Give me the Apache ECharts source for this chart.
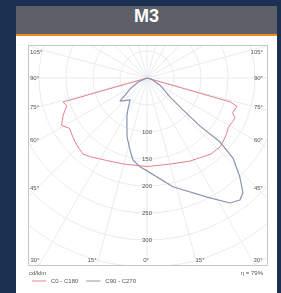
<!DOCTYPE html>
<html>
<head>
<meta charset="utf-8">
<script src="https://cdn.jsdelivr.net/npm/echarts@6/dist/echarts.min.js"></script>
<style>
  html, body { margin: 0; padding: 0; width: 281px; height: 293px; overflow: hidden; background: #1c3152; }
  #card { position: absolute; left: 16px; top: 6px; width: 261px; height: 287px; background: #fff; }
  #head { position: absolute; left: 0; top: 0; width: 261px; height: 28px; background: #5d6067;
          border-bottom: 2px solid #f08a24; color: #fff; text-align: center; line-height: 30px;
          font: bold 18px "Liberation Sans", Arial, sans-serif; }
  #chart { position: absolute; left: 0; top: 30px; width: 261px; height: 257px; }
</style>
</head>
<body>
<div id="card">
  <div id="head">M3</div>
  <div id="chart"></div>
</div>
<script>
// 光强分布 (cd/klm)，gamma 角：负 = 左侧，正 = 右侧
var c0Gamma  = [-90, -76, -74, -71, -66, -61, -57, -51, -46, -40, -36, -26, -15, 0,
                15, 27, 40, 47, 54, 59, 63, 65.5, 68, 72.5, 74, 76, 90];
var c0Values = [0, 0, 162, 157, 170, 181, 171, 176, 180, 184, 180, 170, 165, 164,
                165, 173, 184, 186, 181, 176, 178, 179, 171, 175, 160, 0, 0];

var c90Gamma  = [-90, -66, -57, -52, -49.6, -37.7, -32, -28.4, -23, -18.7, -13.3, -9.7, -4.5, 0,
                 13.4, 26.8, 33.6, 37.3, 39.9, 43.2, 47, 48.8, 47.8, 48.4, 50.4, 61.7, 75, 90];
var c90Values = [0, 18, 37, 51, 66, 51, 66, 78, 95, 115, 137, 154, 165, 172,
                 207, 247, 278, 284, 277, 251, 218, 180, 132, 89, 55, 27, 8, 0];

var seriesNames  = ['C0 - C180', 'C90 - C270'];
var ringLabels   = [100, 150, 200, 250, 300];
var sideLabels   = ['105°', '90°', '75°', '60°', '45°'];
var bottomLabels = ['30°', '15°', '0°', '15°', '30°'];
var unitText = 'cd/klm';
var etaText  = 'η = 79%';

// 标签位置
var sideLabelY   = [16, 42, 71, 104, 152];
var bottomLabelX = [19, 76, 130, 184, 242];

function toPolar(gamma, values) {
  return gamma.map(function (g, i) { return [values[i], g < 0 ? g + 360 : g]; });
}

var FONT = '6px "Liberation Sans", Arial, sans-serif';
var TXT = '#555';
var GRID = '#e8ebef';

var graphics = [
  // 遮住框外的网格
  { type: 'rect', shape: { x: 0, y: 0, width: 261, height: 9 }, style: { fill: '#fff' }, z: 10, silent: true },
  { type: 'rect', shape: { x: 0, y: 230, width: 261, height: 27 }, style: { fill: '#fff' }, z: 10, silent: true },
  { type: 'rect', shape: { x: 0, y: 0, width: 12, height: 257 }, style: { fill: '#fff' }, z: 10, silent: true },
  { type: 'rect', shape: { x: 252, y: 0, width: 9, height: 257 }, style: { fill: '#fff' }, z: 10, silent: true },
  { type: 'rect', shape: { x: 12.5, y: 9.5, width: 239, height: 220 },
    style: { fill: 'none', stroke: '#c6c6c6', lineWidth: 1 }, z: 11, silent: true }
];

function addText(txt, x, y, align) {
  graphics.push({
    type: 'text', x: x, y: y, z: 12, silent: true,
    style: { text: txt, fill: TXT, font: FONT, align: align, textAlign: align,
             verticalAlign: 'middle', textVerticalAlign: 'middle' }
  });
}
sideLabels.forEach(function (t, i) {
  addText(t, 14, sideLabelY[i], 'left');
  addText(t, 247, sideLabelY[i], 'right');
});
bottomLabels.forEach(function (t, i) { addText(t, bottomLabelX[i], 224, 'center'); });
addText(unitText, 13, 237, 'left');
addText(etaText, 247, 237, 'right');

var myChart = echarts.init(document.getElementById('chart'));
var option = {
  animation: false,
  polar: { center: [131, 42], radius: 243 },
  angleAxis: {
    type: 'value', min: 0, max: 360, interval: 15,
    startAngle: 270, clockwise: false,
    axisLine: { show: false }, axisTick: { show: false }, axisLabel: { show: false },
    splitLine: { show: true, lineStyle: { color: GRID, width: 1 } }
  },
  radiusAxis: {
    type: 'value', min: 0, max: 450, interval: 50,
    axisLine: { show: false }, axisTick: { show: false },
    axisLabel: {
      margin: 0, align: 'center', verticalAlign: 'middle',
      fontSize: 6, color: TXT, fontFamily: '"Liberation Sans", Arial, sans-serif',
      formatter: function (v) { return ringLabels.indexOf(v) >= 0 ? String(v) : ''; }
    },
    splitLine: { show: true, lineStyle: { color: GRID, width: 1 } }
  },
  legend: {
    data: seriesNames, left: 16, top: 242, z: 20,
    icon: 'rect', itemWidth: 14, itemHeight: 1, itemGap: 8, padding: 0,
    textStyle: { fontSize: 6, color: TXT, fontFamily: '"Liberation Sans", Arial, sans-serif' }
  },
  series: [
    {
      name: seriesNames[0], type: 'line', coordinateSystem: 'polar', silent: true,
      data: toPolar(c0Gamma, c0Values), symbol: 'none', z: 5,
      lineStyle: { color: '#e6808d', width: 1 }, itemStyle: { color: '#e6808d' }
    },
    {
      name: seriesNames[1], type: 'line', coordinateSystem: 'polar', silent: true,
      data: toPolar(c90Gamma, c90Values), symbol: 'none', z: 6,
      lineStyle: { color: '#8c93ae', width: 1.2 }, itemStyle: { color: '#8c93ae' }
    }
  ],
  graphic: graphics
};
myChart.setOption(option);
</script>
</body>
</html>
